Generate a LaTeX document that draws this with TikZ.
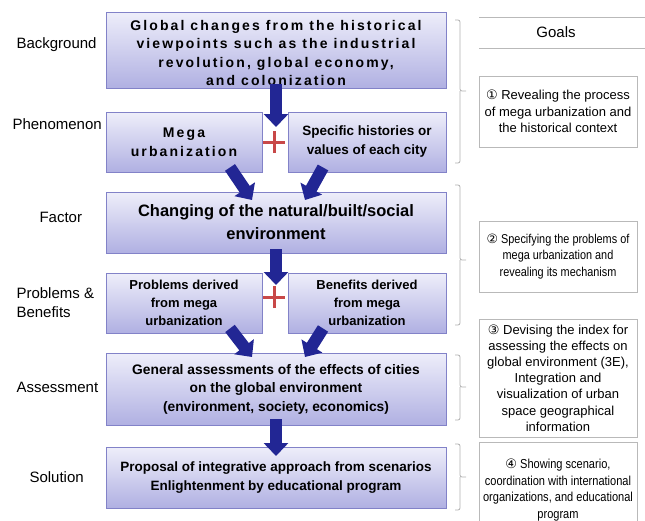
\documentclass[tikz,border=0pt]{standalone}
\usepackage{fontspec}
\setmainfont{Liberation Sans}
\newfontfamily\circfont{DejaVu Sans}
\newfontfamily\spacedfont[LetterSpace=15]{Liberation Sans}
\newfontfamily\narrowfont[FakeStretch=0.85]{Liberation Sans}
\usetikzlibrary{arrows.meta,shadows}
\definecolor{boxtop}{RGB}{238,238,250}
\definecolor{boxbot}{RGB}{176,176,226}
\definecolor{boxline}{RGB}{130,130,200}
\definecolor{arrowblue}{RGB}{34,38,148}
\definecolor{plusred}{RGB}{200,72,72}
\definecolor{bracegray}{RGB}{175,175,175}
\definecolor{goalline}{RGB}{185,185,185}
\tikzset{
  mainbox/.style={draw=boxline, line width=0.9pt, top color=boxtop, bottom color=boxbot,
    drop shadow={opacity=0.25, shadow xshift=1pt, shadow yshift=-1pt},
    inner sep=0pt, align=center, text=black},
  bigarrow/.style={draw=arrowblue, line width=12pt, -{Triangle[width=24pt,length=13pt]}},
  plusmark/.style={draw=plusred, line width=3pt},
  sidelabel/.style={anchor=west, align=left, font=\fontsize{15}{19}\selectfont},
  goalbox/.style={draw=goalline, line width=0.8pt, fill=white, inner sep=0pt, align=center,
    font=\fontsize{13}{16.5}\selectfont},
  brace/.style={draw=bracegray, line width=0.8pt, rounded corners=2pt},
}
\begin{document}
\begin{tikzpicture}[x=1pt,y=-1pt]
\useasboundingbox (0,0) rectangle (645,520);
% left labels
\node[sidelabel] (lb1) at (13,45) {Background};
\node[sidelabel] (lb2) at (9,124) {Phenomenon};
\node[sidelabel] (lb3) at (36,217) {Factor};
\node[sidelabel] (lb4) at (13,303) {Problems \&\\Benefits};
\node[sidelabel] (lb5) at (13,387) {Assessment};
\node[sidelabel] (lb6) at (26,477) {Solution};
% main boxes
\node[mainbox, minimum width=340pt, minimum height=76pt] (b1) at (276,50) {};
\node[align=center, inner sep=0pt, font=\spacedfont\bfseries\fontsize{14}{18.5}\selectfont] (b1t) at (276,53)
  {Global changes from the historical\\viewpoints such as the industrial\\revolution, global economy,\\and colonization};
\node[mainbox, minimum width=156pt, minimum height=60pt,
  font=\spacedfont\bfseries\fontsize{14}{18.5}\selectfont] (mega) at (184,142)
  {Mega\\urbanization};
\node[mainbox, minimum width=158pt, minimum height=60pt,
  font=\bfseries\fontsize{13.5}{19}\selectfont] (spec) at (367,142)
  {Specific histories or\\values of each city};
\node[mainbox, minimum width=340pt, minimum height=61pt,
  font=\bfseries\fontsize{16.5}{23}\selectfont] (fac) at (276,222.5)
  {Changing of the natural/built/social\\environment};
\node[mainbox, minimum width=156pt, minimum height=60pt,
  font=\bfseries\fontsize{13}{18}\selectfont] (prob) at (184,303)
  {Problems derived\\from mega\\urbanization};
\node[mainbox, minimum width=158pt, minimum height=60pt,
  font=\bfseries\fontsize{13}{18}\selectfont] (ben) at (367,303)
  {Benefits derived\\from mega\\urbanization};
\node[mainbox, minimum width=340pt, minimum height=72pt,
  font=\bfseries\fontsize{13.8}{18.5}\selectfont] (ass) at (276,389)
  {General assessments of the effects of cities\\on the global environment\\(environment, society, economics)};
\node[mainbox, minimum width=340pt, minimum height=61pt,
  font=\bfseries\fontsize{13.5}{19}\selectfont] (sol) at (276,477.5)
  {Proposal of integrative approach from scenarios\\Enlightenment by educational program};
% arrows
\coordinate (t1) at (276,127);
\coordinate (t2) at (252,200);
\coordinate (t3) at (305,200);
\coordinate (t4) at (276,285);
\coordinate (t5) at (252,357);
\coordinate (t6) at (305,357);
\coordinate (t7) at (276,456);
\draw[bigarrow] ([yshift=4pt]b1.south) -- (t1);
\draw[bigarrow] ([xshift=46pt,yshift=5pt]mega.south) -- (t2);
\draw[bigarrow] ([xshift=-44pt,yshift=5pt]spec.south) -- (t3);
\draw[bigarrow] ([yshift=4pt]fac.south) -- (t4);
\draw[bigarrow] ([xshift=46pt,yshift=5pt]prob.south) -- (t5);
\draw[bigarrow] ([xshift=-44pt,yshift=5pt]ben.south) -- (t6);
\draw[bigarrow] ([yshift=6pt]ass.south) -- (t7);
% plus signs
\coordinate (p1) at (274,142);
\coordinate (p2) at (274,297);
\draw[plusmark] ([xshift=-11pt]p1) -- ([xshift=11pt]p1) ([yshift=-11pt]p1) -- ([yshift=11pt]p1);
\draw[plusmark] ([xshift=-11pt]p2) -- ([xshift=11pt]p2) ([yshift=-11pt]p2) -- ([yshift=11pt]p2);
% goals header
\coordinate (gl1) at (479,17);
\coordinate (gr1) at (645,17);
\coordinate (gl2) at (479,48);
\coordinate (gr2) at (645,48);
\draw[goalline, line width=0.8pt] (gl1) -- (gr1) (gl2) -- (gr2);
\node[font=\fontsize{15}{18}\selectfont] (goals) at (556,32) {Goals};
% goal boxes
\node[goalbox, minimum width=158pt, minimum height=71pt] (g1) at (558,111.5)
  {{\circfont ①} Revealing the process\\of mega urbanization and\\the historical context};
\node[goalbox, minimum width=158pt, minimum height=71pt,
  font=\narrowfont\fontsize{12.8}{16.5}\selectfont] (g2) at (558,256.5)
  {{\circfont ②} Specifying the problems of\\mega urbanization and\\revealing its mechanism};
\node[goalbox, minimum width=158pt, minimum height=118pt,
  font=\fontsize{13}{16.2}\selectfont] (g3) at (558,378)
  {{\circfont ③} Devising the index for\\assessing the effects on\\global environment (3E),\\Integration and\\visualization of urban\\space geographical\\information};
\node[goalbox, minimum width=158pt, minimum height=84pt, anchor=north,
  font=\narrowfont\fontsize{13}{16.7}\selectfont, text depth=0pt] (g4) at (558,442)
  {\rule{0pt}{18pt}{\circfont ④} Showing scenario,\\coordination with international\\organizations, and educational\\program};
% braces
\draw[brace] (455,20) -| (460,91) -- (466,91) (460,91) |- (455,163);
\draw[brace] (455,185) -| (460,260) -- (466,260) (460,260) |- (455,325);
\draw[brace] (455,355) -| (460,387) -- (466,387) (460,387) |- (455,420);
\draw[brace] (455,444) -| (460,477) -- (466,477) (460,477) |- (455,510);
\end{tikzpicture}
\end{document}
